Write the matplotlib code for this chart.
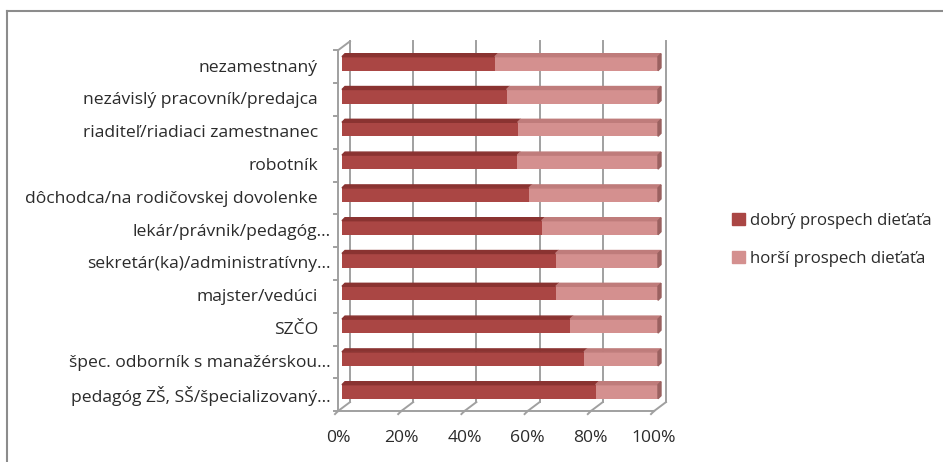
import matplotlib.pyplot as plt
from matplotlib.patches import Polygon, Patch
from matplotlib.lines import Line2D

plt.rcParams['font.family'] = ['Open Sans', 'DejaVu Sans']

categories = [
    'nezamestnaný',
    'nezávislý pracovník/predajca',
    'riaditeľ/riadiaci zamestnanec',
    'robotník',
    'dôchodca/na rodičovskej dovolenke',
    'lekár/právnik/pedagóg...',
    'sekretár(ka)/administratívny...',
    'majster/vedúci',
    'SZČO',
    'špec. odborník s manažérskou...',
    'pedagóg ZŠ, SŠ/špecializovaný...',
]
good = [48.4, 52.1, 55.6, 55.5, 59.2, 63.2, 67.6, 67.7, 72.2, 76.6, 80.3]
worse = [100 - g for g in good]
series_names = ['dobrý prospech dieťaťa', 'horší prospech dieťaťa']
xticks = [0, 20, 40, 60, 80, 100]

dark = '#AA4644'
dark_top = '#8A3331'
light = '#D4908F'
light_top = '#BF7C7B'
light_side = '#9A6160'
grid_c = '#A0A0A0'
text_c = '#2B2B2B'
fs = 12.6

fig = plt.figure(figsize=(9.43, 4.62), dpi=100)
ax = fig.add_axes([342 / 943, 1 - 408.1 / 462, 316 / 943, 360.8 / 462])
ax.set_xlim(0, 100)
ax.set_ylim(10.5, -0.5)
ax.axis('off')

# pixel -> data units
px_x = 100 / 316
px_y = 1 / 32.8
dxF, dyF = -4 * px_x, 3 * px_y      # front plane
dxB, dyB = 8 * px_x, -6 * px_y      # back wall
bdx, bdy = 3 * px_x, -3 * px_y      # bar depth
h = 14 * px_y / 2

def line(xs, ys, **kw):
    ax.add_line(Line2D(xs, ys, color=grid_c, lw=1.4, clip_on=False, zorder=1, **kw))

# back wall gridlines
for p in xticks:
    line([p + dxB, p + dxB], [-0.5 + dyB, 10.5 + dyB])
    line([p + dxF, p + dxB], [10.5 + dyF, 10.5 + dyB])
    line([p + dxF, p + dxF - 3 * px_x], [10.5 + dyF, 10.5 + dyF + 3 * px_y])
# front left edge and floor
line([dxF, dxF], [-0.5 + dyF, 10.5 + dyF])
line([dxF, dxB], [-0.5 + dyF, -0.5 + dyB])
line([dxF, 100 + dxF], [10.5 + dyF, 10.5 + dyF])
for k in range(len(categories) + 1):
    y = k - 0.5 + dyF
    line([dxF - 4 * px_x, dxF], [y, y])

# bars
for i, (g, w) in enumerate(zip(good, worse)):
    top, bot = i - h, i + h
    for x0, val, face, tface in [(0, g, dark, dark_top), (g, w, light, light_top)]:
        ax.barh(i, val, left=x0, height=2 * h, color=face, zorder=3)
        ax.add_patch(Polygon([(x0, top), (x0 + val, top), (x0 + val + bdx, top + bdy),
                              (x0 + bdx, top + bdy)], closed=True, color=tface,
                             zorder=3, clip_on=False))
    ax.add_patch(Polygon([(100, top), (100 + bdx, top + bdy), (100 + bdx, bot + bdy),
                          (100, bot)], closed=True, color=light_side, zorder=3, clip_on=False))

# category labels
for i, lab in enumerate(categories):
    x = -3.5 if lab.endswith('...') else -7.6
    ax.text(x, i + 0.12, lab, ha='right', va='center', fontsize=fs, color=text_c)

# value axis labels
for p in xticks:
    ax.text(p + dxF, 11.41, f'{p}%', ha='center', va='center', fontsize=fs, color=text_c)

handles = [Patch(color=dark), Patch(color=light)]
leg = ax.legend(handles, series_names, loc='center left',
                bbox_to_anchor=(724 / 943, 1 - 240 / 462), bbox_transform=fig.transFigure,
                frameon=False, handlelength=0.75, handleheight=0.75, handletextpad=0.3,
                labelspacing=1.3, borderpad=0, fontsize=12.1)
for t in leg.get_texts():
    t.set_color(text_c)

# outer frame
fig.add_artist(Line2D([7 / 943, 1], [1 - 10.5 / 462, 1 - 10.5 / 462], color='#8C8C8C', lw=1.5))
fig.add_artist(Line2D([7 / 943, 7 / 943], [0, 1 - 10.5 / 462], color='#8C8C8C', lw=1.5))

fig.savefig('out.png', dpi=100)
